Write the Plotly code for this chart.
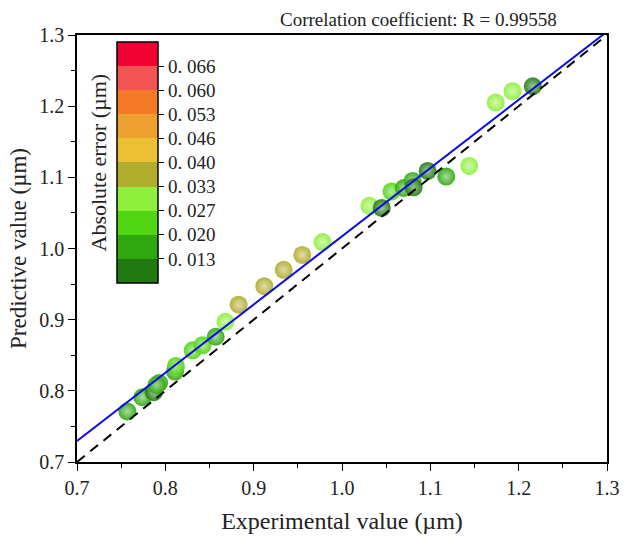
import numpy as np
import plotly.graph_objects as go

# Measured vs. predicted feature size (µm)
experimental = [0.757, 0.774, 0.787, 0.793, 0.790, 0.811, 0.812, 0.831, 0.842, 0.857,
                0.868, 0.883, 0.912, 0.934, 0.955, 0.978, 1.031, 1.045, 1.056, 1.070,
                1.080, 1.081, 1.097, 1.118, 1.144, 1.174, 1.193, 1.216]
predicted = [0.771, 0.791, 0.798, 0.811, 0.808, 0.827, 0.835, 0.857, 0.864, 0.876,
             0.897, 0.921, 0.947, 0.970, 0.991, 1.009, 1.060, 1.057, 1.080, 1.085,
             1.095, 1.086, 1.109, 1.101, 1.116, 1.205, 1.221, 1.228]

# Linear fit of predicted on experimental
FIT_SLOPE = 0.9588
FIT_INTERCEPT = 0.0583

# Discrete error scale
ERR_MIN = 0.0064
ERR_STEP = 0.0066
BAND_COLORS = ["#217a10", "#2fa80f", "#50d612", "#8ef03d", "#b0ac2c",
               "#ebc133", "#eea030", "#f57a27", "#f25353", "#f20233"]
TICK_LABELS = ["0. 013", "0. 020", "0. 027", "0. 033", "0. 040",
               "0. 046", "0. 053", "0. 060", "0. 066"]

exp_arr = np.array(experimental)
pred_arr = np.array(predicted)
abs_err = np.abs(pred_arr - exp_arr)

n_bands = len(BAND_COLORS)
err_max = ERR_MIN + n_bands * ERR_STEP

colorscale = []
for i, c in enumerate(BAND_COLORS):
    colorscale.append([i / n_bands, c])
    colorscale.append([(i + 1) / n_bands, c])


def lighten(hex_color, amount):
    h = hex_color.lstrip("#")
    r, g, b = (int(h[k:k + 2], 16) for k in (0, 2, 4))
    r = int(r + (255 - r) * amount)
    g = int(g + (255 - g) * amount)
    b = int(b + (255 - b) * amount)
    return f"rgb({r},{g},{b})"


band_idx = np.clip(((abs_err - ERR_MIN) / ERR_STEP).astype(int), 0, n_bands - 1)
highlight = [lighten(BAND_COLORS[i], 0.55) for i in band_idx]

tick_vals = [ERR_MIN + ERR_STEP * (k + 1) for k in range(len(TICK_LABELS))]

SERIF = "Liberation Serif"

fig = go.Figure()

fig.add_trace(go.Scatter(
    x=experimental, y=predicted, mode="markers",
    marker=dict(
        size=18,
        color=abs_err,
        colorscale=colorscale,
        cmin=ERR_MIN, cmax=err_max,
        opacity=0.92,
        line=dict(width=0),
        gradient=dict(type="radial", color=highlight),
        showscale=True,
        colorbar=dict(
            x=0.0764, xanchor="left", xpad=0,
            y=0.9836, yanchor="top", ypad=0,
            thickness=41, thicknessmode="pixels",
            len=241, lenmode="pixels",
            outlinewidth=1.5, outlinecolor="black",
            tickmode="array", tickvals=tick_vals, ticktext=TICK_LABELS,
            ticks="outside", ticklen=6, tickwidth=1.2, tickcolor="black",
            tickfont=dict(family=SERIF, size=19, color="#222"),
        ),
    ),
    showlegend=False,
))

x_line = np.array([0.7, 1.3])
fig.add_trace(go.Scatter(
    x=x_line, y=FIT_SLOPE * x_line + FIT_INTERCEPT, mode="lines",
    line=dict(color="#0a0ae6", width=2), showlegend=False,
))
fig.add_trace(go.Scatter(
    x=x_line, y=x_line, mode="lines",
    line=dict(color="black", width=2, dash="10px,7px"), showlegend=False,
))

axis_common = dict(
    range=[0.7, 1.3], dtick=0.1, tick0=0.7, tickformat=".1f",
    showgrid=False, zeroline=False,
    showline=True, linecolor="black", linewidth=1.5, mirror=True,
    ticks="outside", ticklen=7, tickwidth=1.3, tickcolor="black",
    tickfont=dict(family=SERIF, size=20, color="#222"),
    minor=dict(dtick=0.05, tick0=0.7, ticks="outside", ticklen=4,
               tickwidth=1.2, tickcolor="black", showgrid=False),
)

fig.update_xaxes(**axis_common,
                 title=dict(text="Experimental value (µm)", standoff=14,
                            font=dict(family=SERIF, size=24, color="#222")))
fig.update_yaxes(**axis_common,
                 title=dict(text="Predictive value (µm)", standoff=6,
                            font=dict(family=SERIF, size=23, color="#222")))

fig.add_annotation(
    text="Correlation coefficient: R = 0.99558",
    xref="paper", yref="paper", x=0.645, y=1.0, yanchor="bottom", yshift=3,
    showarrow=False, font=dict(family=SERIF, size=19, color="#222"),
)
fig.add_annotation(
    text="Absolute error (µm)", textangle=-90,
    xref="paper", yref="paper", x=0.0415, y=0.7014, xanchor="center", yanchor="middle",
    showarrow=False, font=dict(family=SERIF, size=22, color="#222"),
)

fig.update_layout(
    width=624, height=536,
    margin=dict(l=77, r=17, t=35, b=74, autoexpand=False),
    paper_bgcolor="white", plot_bgcolor="white",
)

fig.write_html("out.html")
